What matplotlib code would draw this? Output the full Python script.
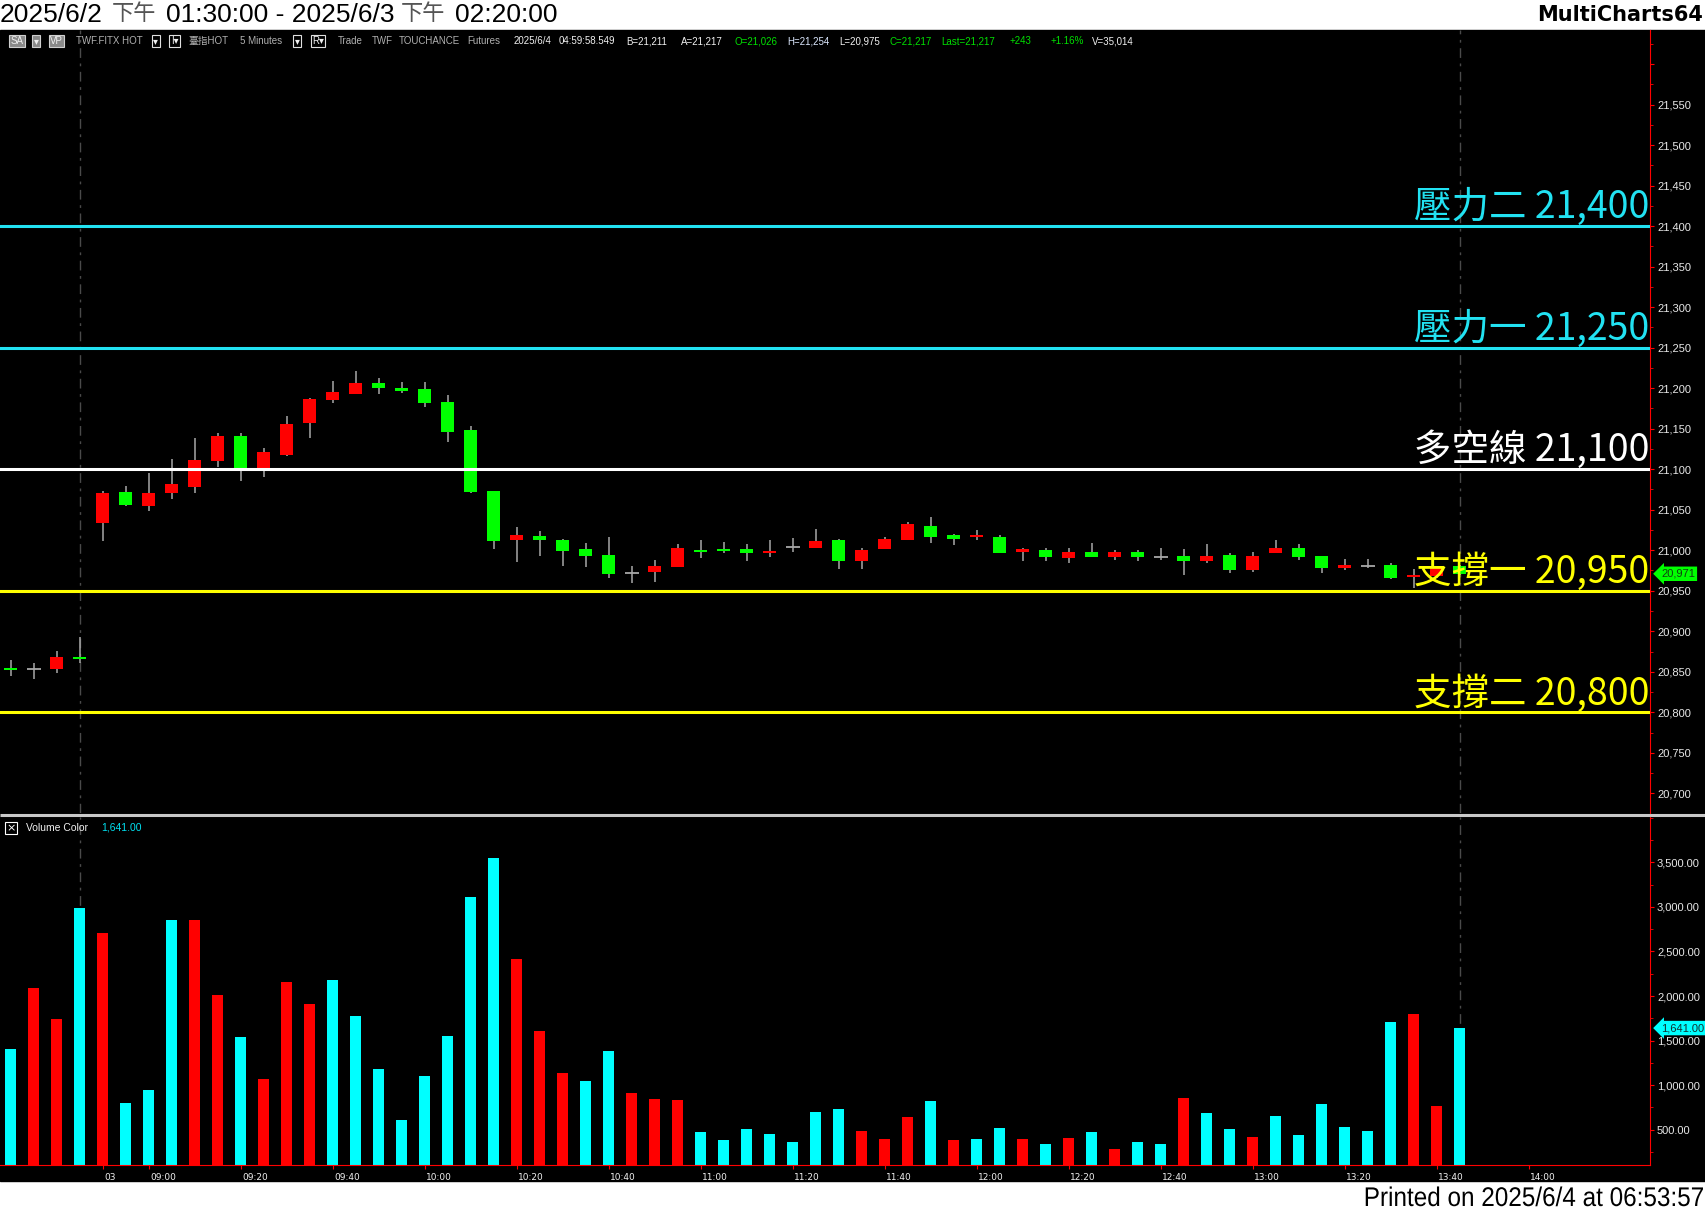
import matplotlib.pyplot as plt
from matplotlib.patches import Rectangle, PathPatch
from matplotlib.ticker import FixedLocator, MultipleLocator, FuncFormatter
from matplotlib.textpath import TextPath
from matplotlib.font_manager import FontProperties
import matplotlib.transforms as mtransforms

plt.rcParams['font.family'] = ['Liberation Sans', 'Noto Sans CJK TC', 'DejaVu Sans']

# ---- data (5 分 K, 2025/6/2 13:30 ~ 2025/6/3 13:45) ----
opens = [20854, 20853, 20853, 20868, 21034, 21072, 21055, 21070, 21078, 21110,
         21141, 21101, 21118, 21157, 21186, 21193, 21206, 21200, 21199, 21183,
         21148, 21073, 21012, 21018, 21012, 21002, 20994, 20972, 20973, 20979,
         21000, 21002, 21002, 20997, 21004, 21003, 21013, 20987, 21002, 21013,
         21030, 21019, 21016, 21016, 20998, 21000, 20990, 20998, 20992, 20998,
         20992, 20993, 20987, 20994, 20975, 20996, 21003, 20993, 20978, 20981,
         20982, 20967, 20968, 20981]
highs = [20865, 20861, 20876, 20893, 21073, 21079, 21095, 21113, 21139, 21145,
         21145, 21126, 21166, 21188, 21209, 21221, 21213, 21208, 21207, 21192,
         21153, 21073, 21029, 21024, 21014, 21009, 21016, 20980, 20988, 21008,
         21013, 21010, 21008, 21013, 21015, 21026, 21014, 21003, 21016, 21035,
         21041, 21020, 21025, 21019, 21003, 21003, 21003, 21009, 21000, 21000,
         21003, 21002, 21008, 20996, 20998, 21013, 21008, 20993, 20989, 20989,
         20984, 20977, 20980, 20982]
lows = [20845, 20841, 20849, 20861, 21011, 21055, 21049, 21063, 21070, 21103,
        21086, 21090, 21116, 21139, 21182, 21193, 21193, 21194, 21177, 21134,
        21070, 21001, 20986, 20993, 20981, 20979, 20966, 20960, 20961, 20979,
        20991, 20996, 20987, 20992, 20998, 21003, 20977, 20977, 21002, 21013,
        21009, 21007, 21013, 20996, 20987, 20987, 20984, 20992, 20988, 20987,
        20988, 20970, 20984, 20972, 20973, 20996, 20988, 20972, 20976, 20978,
        20965, 20953, 20966, 20969]
closes = [20852, 20853, 20868, 20866, 21071, 21056, 21071, 21082, 21111, 21141,
          21099, 21121, 21156, 21187, 21195, 21206, 21200, 21197, 21182, 21146,
          21072, 21011, 21019, 21012, 20999, 20993, 20971, 20972, 20981, 21003,
          20998, 20999, 20996, 20999, 21004, 21011, 20987, 21000, 21014, 21032,
          21016, 21014, 21019, 20997, 21001, 20992, 20998, 20992, 20998, 20992,
          20992, 20987, 20993, 20975, 20993, 21003, 20992, 20978, 20982, 20981,
          20966, 20970, 20979, 20971]
volumes = [1402, 2085, 1744, 2988, 2707, 805, 951, 2854, 2854, 2012,
           1537, 1073, 2159, 1915, 2183, 1780, 1183, 610, 1098, 1549,
           3110, 3549, 2415, 1610, 1134, 1049, 1384, 913, 845, 834,
           474, 385, 508, 452, 362, 699, 733, 485, 395, 642,
           822, 385, 395, 519, 395, 339, 407, 474, 283, 362,
           339, 856, 688, 508, 418, 654, 441, 789, 530, 485,
           1708, 1798, 766, 1641]
# Volume Color 指標: c = 青, r = 紅
vol_flag = list('crrcrccc' + 'rrcrrrcc' + 'ccccccrr' + 'rc'
                + 'crrrccccccc' + 'rrrcrccrcrcrccrccrccccccrrc')
levels = [21400, 21250, 21100, 20950, 20800]
level_names = ['壓力二', '壓力一', '多空線', '支撐一', '支撐二']
tick_idx = [4, 6, 10, 14, 18, 22, 26, 30, 34, 38, 42, 46, 50, 54, 58, 62, 66]
tick_lbl = ['03', '09:00', '09:20', '09:40', '10:00', '10:20', '10:40', '11:00',
            '11:20', '11:40', '12:00', '12:20', '12:40', '13:00', '13:20',
            '13:40', '14:00']
session_end = [3, 63]
last_price = 20971
last_vol = 1641.00

W, H = 1705, 1211
XL, XR = -0.474, 71.27


def fy(y):
    return 1 - y / H


fig = plt.figure(figsize=(W / 100, H / 100), dpi=100, facecolor='white')

# 背景
bg = fig.add_axes([0, 0, 1, 1], zorder=0)
bg.set_xlim(0, W)
bg.set_ylim(H, 0)
bg.axis('off')
bg.add_patch(Rectangle((0, 30), W, 1151, color='black'))
bg.plot([0, W], [814.5, 814.5], color='#c8c8c8', lw=2.2, solid_capstyle='butt')

# ---- 價格 ----
axp = fig.add_axes([0, fy(813), 1650 / W, (813 - 30) / H], zorder=1)
axp.set_facecolor('none')
axp.set_xlim(XL, XR)
axp.set_ylim(20675.7, 21642)

for i in range(len(opens)):
    o, h, l, c = opens[i], highs[i], lows[i], closes[i]
    axp.vlines(i, l, h, color='#a8a8a8', lw=1.1, zorder=2)
    if c == o:
        axp.hlines(c, i - 0.3, i + 0.3, color='#a8a8a8', lw=1.3, zorder=3)
        continue
    col = '#ff0000' if c > o else '#00ff00'
    hgt = max(abs(c - o), 2.2)
    axp.bar(i, hgt, bottom=min(o, c), width=0.56, color=col, zorder=3)

level_cols = ['#22e2f2', '#22e2f2', '#ffffff', '#ffff00', '#ffff00']
tr = mtransforms.blended_transform_factory(axp.transAxes, axp.transData)
for lv, name, col in zip(levels, level_names, level_cols):
    axp.axhline(lv, color=col, lw=2.2, zorder=4)
    axp.text(0.9995, lv - 1.5, f'{name} {lv:,}', transform=tr, ha='right', va='bottom',
             fontsize=27, color=col, family=['Noto Sans CJK TC'], fontweight=300, zorder=5)

for s in session_end:
    axp.axvline(s, color='#4a4a4a', lw=1, dashes=(7, 4, 2, 4), zorder=1)

axp.yaxis.tick_right()
axp.yaxis.set_major_locator(FixedLocator(list(range(20700, 21601, 50))))
axp.yaxis.set_major_formatter(FuncFormatter(lambda v, p: '' if v > 21560 else f'{v:,.0f}'))
axp.yaxis.set_minor_locator(MultipleLocator(25))
axp.tick_params(axis='y', which='both', colors='red', labelcolor='#e8e8e8',
                labelsize=8, direction='out', pad=2)
axp.tick_params(axis='y', which='major', length=3)
axp.tick_params(axis='y', which='minor', length=2)
axp.set_xticks([])
for k in ['top', 'left', 'bottom']:
    axp.spines[k].set_visible(False)
axp.spines['right'].set_color('red')

# ---- 成交量 ----
axv = fig.add_axes([0, fy(1165), 1650 / W, (1165 - 817) / H], zorder=1)
axv.set_facecolor('none')
axv.set_xlim(XL, XR)
axv.set_ylim(105, 4008)
vcols = ['#00ffff' if f == 'c' else '#ff0000' for f in vol_flag]
axv.bar(range(len(volumes)), volumes, width=0.47, color=vcols, zorder=2)
for s in session_end:
    axv.axvline(s, color='#4a4a4a', lw=1, dashes=(7, 4, 2, 4), zorder=1)

axv.yaxis.tick_right()
axv.yaxis.set_major_locator(FixedLocator(list(range(500, 3501, 500))))
axv.yaxis.set_major_formatter(FuncFormatter(lambda v, p: f'{v:,.2f}'))
axv.yaxis.set_minor_locator(MultipleLocator(250))
axv.tick_params(axis='y', which='both', colors='red', labelcolor='#e8e8e8',
                labelsize=8, direction='out', pad=2)
axv.tick_params(axis='y', which='major', length=3)
axv.tick_params(axis='y', which='minor', length=2)
axv.set_xticks(tick_idx)
axv.set_xticklabels(tick_lbl, family=['Liberation Sans Narrow', 'DejaVu Sans'])
axv.tick_params(axis='x', colors='red', labelcolor='#f0f0f0', labelsize=6.5,
                length=3, pad=3)
off = mtransforms.ScaledTranslation(1 / 100, 0, fig.dpi_scale_trans)
for lab in axv.get_xticklabels():
    lab.set_ha('left')
    lab.set_transform(lab.get_transform() + off)
for k in ['top', 'left']:
    axv.spines[k].set_visible(False)
axv.spines['right'].set_color('red')
axv.spines['bottom'].set_color('red')

# ---- 文字層 ----
ov = fig.add_axes([0, 0, 1, 1], zorder=3)
ov.set_facecolor('none')
ov.set_xlim(0, W)
ov.set_ylim(H, 0)
ov.axis('off')


def narrow_text(x, base, s, size, sx=0.8, ha='left', color='black'):
    # 窄體字: 用 TextPath 水平壓縮
    tp = TextPath((0, 0), s, size=size, prop=FontProperties(family='Liberation Sans'))
    bb = tp.get_extents()
    x0 = x - bb.x1 * sx if ha == 'right' else x
    t = mtransforms.Affine2D().scale(sx, -1).translate(x0, base) + ov.transData
    ov.add_patch(PathPatch(tp, fc=color, ec='none', transform=t))


# 右側標籤
py = 226.2 + (21400 - last_price) * 0.8102
ov.text(1661, py, f'{last_price:,}', fontsize=8, color='#104010', va='center', ha='left',
        bbox=dict(boxstyle='larrow,pad=0.2', fc='#00ff00', ec='none'))
vy = 1129.8 - (last_vol - 500) / 11.215
ov.text(1661, vy, f'{last_vol:,.2f}', fontsize=8, color='#103030', va='center', ha='left',
        bbox=dict(boxstyle='larrow,pad=0.2', fc='#00ffff', ec='none'))

# 標題
hdr = [('2025/6/2', 0, 'black', 19), ('下午', 112, '#555555', 16),
       ('01:30:00 - 2025/6/3', 166, 'black', 19),
       ('下午', 401, '#555555', 16), ('02:20:00', 455, 'black', 19)]
for t, x, c, fs in hdr:
    ov.text(x, 15, t, fontsize=fs, color=c, va='center', ha='left')
ov.text(1703, 15, 'MultiCharts64', fontsize=15, fontweight='bold', color='black',
        va='center', ha='right', family='DejaVu Sans')
narrow_text(1703, 1206, 'Printed on 2025/6/4 at 06:53:57', 27, sx=0.9, ha='right')

# 資訊列
gray, wht, grn = '#b0b0b0', '#f0f0f0', '#00e000'
box_fill = dict(boxstyle='square,pad=0.15', fc='#8a8a8a', ec='#d0d0d0', lw=0.8)
box_line = dict(boxstyle='square,pad=0.15', fc='black', ec='#e0e0e0', lw=0.8)
info = [('SA', 10, wht, box_fill), ('▾', 31, wht, box_fill), ('VP', 46, wht, box_fill),
        ('TWF.FITX HOT', 70, gray, None), ('▾', 141, wht, box_line), ('I▾', 157, wht, box_line),
        ('臺指HOT', 173, gray, None), ('5 Minutes', 221, gray, None), ('▾', 271, wht, box_line),
        ('R▾', 287, wht, box_line), ('Trade', 311, gray, None), ('TWF', 342, gray, None),
        ('TOUCHANCE', 367, gray, None), ('Futures', 430, gray, None),
        ('2025/6/4', 472, wht, None), ('04:59:58.549', 514, wht, None),
        ('B=21,211', 576, wht, None), ('A=21,217', 626, wht, None),
        ('O=21,026', 675, grn, None), ('H=21,254', 724, '#dce8ff', None),
        ('L=20,975', 772, wht, None), ('C=21,217', 818, grn, None),
        ('Last=21,217', 866, grn, None), ('+243', 928, grn, None),
        ('+1.16%', 966, grn, None), ('V=35,014', 1004, wht, None)]
for t, x, c, b in info:
    ov.text(x / 0.9196, 41, t, fontsize=7, color=c, va='center', ha='left', bbox=b,
            family=['Liberation Sans', 'Noto Sans CJK TC', 'DejaVu Sans'])

# Volume Color 標籤
ov.add_patch(Rectangle((5, 822), 12, 12, fill=False, ec='white', lw=0.8))
ov.text(11, 828, '×', fontsize=8, color='white', ha='center', va='center', family='DejaVu Sans')
ov.text(26, 828, 'Volume Color', fontsize=7.5, color=wht, va='center', ha='left')
ov.text(101, 828, f'{last_vol:,.2f}', fontsize=7.5, color='#00e0f0', va='center', ha='left')

fig.savefig('out.png', dpi=100, facecolor='white')
